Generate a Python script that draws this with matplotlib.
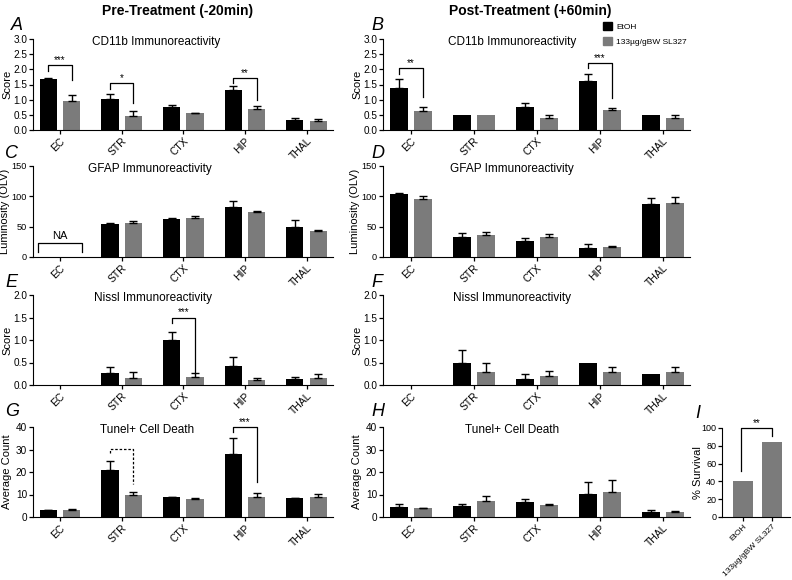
import numpy as np
import matplotlib.pyplot as plt
from matplotlib.patches import Patch

plt.rcParams['font.family'] = ['Liberation Sans', 'DejaVu Sans']

regions = ['EC', 'STR', 'CTX', 'HIP', 'THAL']

# CD11b score
cd11b_pre_etoh = [1.68, 1.01, 0.76, 1.32, 0.33]
cd11b_pre_etoh_err = [0.05, 0.18, 0.06, 0.13, 0.07]
cd11b_pre_sl = [0.94, 0.47, 0.55, 0.68, 0.30]
cd11b_pre_sl_err = [0.20, 0.17, 0.02, 0.11, 0.07]
cd11b_post_etoh = [1.38, 0.51, 0.76, 1.63, 0.51]
cd11b_post_etoh_err = [0.30, 0.0, 0.12, 0.22, 0.0]
cd11b_post_sl = [0.61, 0.51, 0.41, 0.65, 0.41]
cd11b_post_sl_err = [0.16, 0.0, 0.09, 0.09, 0.09]

# GFAP luminosity (EC not available pre-treatment)
gfap_pre_etoh = [0, 54, 62, 83, 50]
gfap_pre_etoh_err = [0, 2, 1.5, 9, 11]
gfap_pre_sl = [0, 56, 65, 74, 43]
gfap_pre_sl_err = [0, 3, 3, 2, 2]
gfap_post_etoh = [104, 33, 27, 15.5, 88]
gfap_post_etoh_err = [1.5, 7, 4, 5.5, 9]
gfap_post_sl = [96, 36, 33, 16.7, 89.5]
gfap_post_sl_err = [4, 5, 5, 1, 9.5]

# Nissl score
nissl_pre_etoh = [0, 0.26, 1.01, 0.42, 0.13]
nissl_pre_etoh_err = [0, 0.13, 0.17, 0.21, 0.04]
nissl_pre_sl = [0, 0.15, 0.185, 0.11, 0.15]
nissl_pre_sl_err = [0, 0.15, 0.09, 0.04, 0.10]
nissl_post_etoh = [0, 0.50, 0.126, 0.50, 0.25]
nissl_post_etoh_err = [0, 0.28, 0.12, 0.0, 0.0]
nissl_post_sl = [0, 0.30, 0.20, 0.30, 0.30]
nissl_post_sl_err = [0, 0.20, 0.12, 0.09, 0.09]

# Tunel+ average count
tunel_pre_etoh = [3.1, 21, 8.7, 27.9, 8.3]
tunel_pre_etoh_err = [0.2, 3.7, 0.3, 7.0, 0.3]
tunel_pre_sl = [3.0, 10, 8.0, 9.0, 8.7]
tunel_pre_sl_err = [0.5, 1.2, 0.4, 1.6, 1.6]
tunel_post_etoh = [4.4, 4.7, 6.7, 10.4, 2.1]
tunel_post_etoh_err = [1.2, 0.9, 1.3, 5.0, 0.9]
tunel_post_sl = [3.85, 7.3, 5.3, 11.3, 2.2]
tunel_post_sl_err = [0.3, 2.2, 0.5, 5.0, 0.3]

# survival
surv_groups = ['EtOH', '133\u00b5g/gBW SL327']
surv_values = [40, 84]

BLACK = 'black'
GRAY = '#7b7b7b'
off = 0.19
w = 0.28

fig = plt.figure(figsize=(7.92, 5.80), dpi=100)
W, H = 792.0, 580.0


def add(x0, x1, y0, y1):
    ax = fig.add_axes([x0 / W, 1 - y1 / H, (x1 - x0) / W, (y1 - y0) / H])
    ax.px_width = x1 - x0
    return ax


def style(ax, ysize=7.2):
    ax.spines['top'].set_visible(False)
    ax.spines['right'].set_visible(False)
    ax.tick_params(direction='out', length=3, width=0.9, pad=1.2)
    ax.tick_params(axis='y', labelsize=ysize)


def panel(ax, etoh, etoh_err, sl, sl_err, top, ticks, fmt, ylabel, title, tx=0.41,
          ysize=7.2, lx=-20.5):
    x = np.arange(len(regions))
    ax.bar(x - off, etoh, w, color=BLACK)
    ax.bar(x + off, sl, w, color=GRAY)
    for xi, v, e in zip(x - off, etoh, etoh_err):
        if e > 0:
            ax.errorbar(xi, v, yerr=[[0], [e]], color='black', lw=1, capsize=3, capthick=1)
    for xi, v, e in zip(x + off, sl, sl_err):
        if e > 0:
            ax.errorbar(xi, v, yerr=[[0], [e]], color='black', lw=1, capsize=3, capthick=1)
    ax.set_xlim(-0.44, 4.43)
    ax.set_ylim(0, top)
    ax.set_yticks(ticks)
    ax.set_yticklabels([fmt % t for t in ticks])
    ax.set_xticks(x)
    ax.set_xticklabels(regions, rotation=45, ha='right', rotation_mode='anchor', fontsize=7.5)
    ax.set_ylabel(ylabel, fontsize=8)
    ax.yaxis.set_label_coords(lx / ax.px_width, 0.5)
    ax.text(tx, 0.97, title, transform=ax.transAxes, ha='center', va='center', fontsize=8.5)
    style(ax, ysize)


def bracket(ax, i, ytop, yl, yr, txt, ls='-'):
    x1, x2 = i - off, i + off
    ax.plot([x1, x1, x2, x2], [yl, ytop, ytop, yr], color='black', lw=0.9, ls=ls, clip_on=False)
    if txt:
        ax.text(i, ytop, txt, ha='center', va='bottom', fontsize=7, clip_on=False)


axA = add(33, 333, 39, 130)
axB = add(383, 690, 39, 130)
axC = add(33, 333, 166, 257)
axD = add(383, 690, 166, 257)
axE = add(33, 333, 295, 385)
axF = add(383, 690, 295, 385)
axG = add(33, 333, 427, 517)
axH = add(383, 690, 427, 517)
axI = add(722, 790, 428, 517)

cd_t = [0, 0.5, 1.0, 1.5, 2.0, 2.5, 3.0]
panel(axA, cd11b_pre_etoh, cd11b_pre_etoh_err, cd11b_pre_sl, cd11b_pre_sl_err,
      3.0, cd_t, '%.1f', 'Score', 'CD11b Immunoreactivity')
panel(axB, cd11b_post_etoh, cd11b_post_etoh_err, cd11b_post_sl, cd11b_post_sl_err,
      3.0, cd_t, '%.1f', 'Score', 'CD11b Immunoreactivity', tx=0.42)
bracket(axA, 0, 2.15, 1.95, 1.65, '***')
bracket(axA, 1, 1.54, 1.35, 0.88, '*')
bracket(axA, 3, 1.71, 1.54, 0.99, '**')
bracket(axB, 0, 2.04, 1.85, 1.1, '**')
bracket(axB, 3, 2.2, 2.04, 1.05, '***')

gf_t = [0, 50, 100, 150]
panel(axC, gfap_pre_etoh, gfap_pre_etoh_err, gfap_pre_sl, gfap_pre_sl_err,
      150, gf_t, '%d', 'Luminosity (OLV)', 'GFAP Immunoreactivity', tx=0.39,
      ysize=6.6, lx=-22.5)
panel(axD, gfap_post_etoh, gfap_post_etoh_err, gfap_post_sl, gfap_post_sl_err,
      150, gf_t, '%d', 'Luminosity (OLV)', 'GFAP Immunoreactivity', tx=0.42,
      ysize=6.6, lx=-22.5)
axC.plot([-0.36, -0.36, 0.36, 0.36], [8, 23, 23, 8], color='black', lw=0.9)
axC.text(0, 26, 'NA', ha='center', va='bottom', fontsize=8)

ns_t = [0, 0.5, 1.0, 1.5, 2.0]
panel(axE, nissl_pre_etoh, nissl_pre_etoh_err, nissl_pre_sl, nissl_pre_sl_err,
      2.0, ns_t, '%.1f', 'Score', 'Nissl Immunoreactivity', tx=0.4)
panel(axF, nissl_post_etoh, nissl_post_etoh_err, nissl_post_sl, nissl_post_sl_err,
      2.0, ns_t, '%.1f', 'Score', 'Nissl Immunoreactivity', tx=0.42)
bracket(axE, 2, 1.5, 1.37, 0.3, '***')

tu_t = [0, 10, 20, 30, 40]
panel(axG, tunel_pre_etoh, tunel_pre_etoh_err, tunel_pre_sl, tunel_pre_sl_err,
      40, tu_t, '%d', 'Average Count', 'Tunel+ Cell Death', tx=0.38)
panel(axH, tunel_post_etoh, tunel_post_etoh_err, tunel_post_sl, tunel_post_sl_err,
      40, tu_t, '%d', 'Average Count', 'Tunel+ Cell Death', tx=0.42)
bracket(axG, 1, 30.4, 28.4, 14.8, '', ls=(0, (2, 1.5)))
bracket(axG, 3, 40, 37.8, 15.4, '***')

# survival panel
xs = np.arange(len(surv_groups))
axI.bar(xs, surv_values, 0.69, color=GRAY)
axI.set_xlim(-0.72, 1.62)
axI.set_ylim(0, 100)
axI.set_yticks([0, 20, 40, 60, 80, 100])
axI.set_xticks(xs)
axI.set_xticklabels(surv_groups, rotation=45, ha='right', rotation_mode='anchor', fontsize=6)
axI.set_ylabel('% Survival', fontsize=8)
axI.yaxis.set_label_coords(-19.0 / axI.px_width, 0.5)
style(axI, ysize=6.5)
axI.plot([-0.07, -0.07, 1, 1], [52, 100, 100, 91], color='black', lw=0.9, clip_on=False)
axI.text(0.47, 100, '**', ha='center', va='bottom', fontsize=7, clip_on=False)

# headings and panel letters
fig.text(178 / W, 1 - 11 / H, 'Pre-Treatment (-20min)', ha='center', va='center',
         fontsize=10, fontweight='bold')
fig.text(530 / W, 1 - 11 / H, 'Post-Treatment (+60min)', ha='center', va='center',
         fontsize=10, fontweight='bold')
letters = [('A', 11, 26), ('B', 371, 26), ('C', 5, 154), ('D', 371, 154),
           ('E', 5, 283), ('F', 371, 283), ('G', 5, 412), ('H', 371, 412), ('I', 695, 413)]
for lab, lx, ly in letters:
    fig.text(lx / W, 1 - ly / H, lab, ha='left', va='center', fontsize=13, fontstyle='italic')

# legend
fig.legend(handles=[Patch(color=BLACK, label='EtOH'), Patch(color=GRAY, label=surv_groups[1])],
           loc='upper left', bbox_to_anchor=(603 / W, 1 - 22 / H), frameon=False,
           fontsize=6, handlelength=1.1, handleheight=1.1, handletextpad=0.5,
           labelspacing=0.7, borderaxespad=0, borderpad=0)

fig.savefig('out.png', dpi=100)
